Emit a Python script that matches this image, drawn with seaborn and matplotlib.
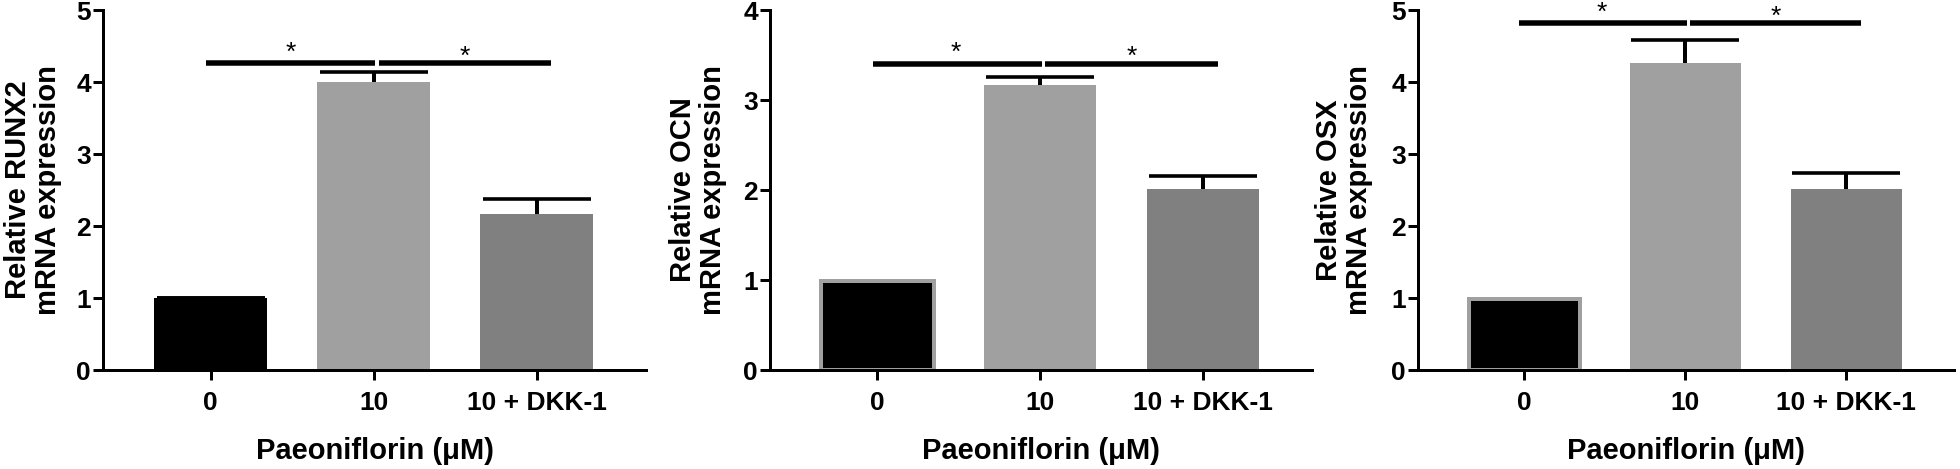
import matplotlib
matplotlib.use("Agg")
import matplotlib.pyplot as plt
import seaborn as sns
import pandas as pd

sns.set_theme(style="ticks")
plt.rcParams['font.family'] = ['Liberation Sans', 'DejaVu Sans']

# ---------------- data ----------------
groups = ["0", "10", "10 + DKK-1"]
runx2_mean = [1.00, 4.00, 2.16]
runx2_err = [0.00, 0.14, 0.21]
ocn_mean = [0.985, 3.17, 2.01]
ocn_err = [0.00, 0.09, 0.15]
osx_mean = [0.985, 4.27, 2.52]
osx_err = [0.00, 0.32, 0.21]

ylabels = ["Relative RUNX2\nmRNA expression",
           "Relative OCN\nmRNA expression",
           "Relative OSX\nmRNA expression"]
xlabel = "Paeoniflorin (\u03bcM)"
ymax = [5, 4, 5]
sig_y = [4.26, 3.40, 4.82]
star_pos = [[(0.49, 4.49), (1.56, 4.43)],
            [(0.48, 3.59), (1.56, 3.55)],
            [(0.48, 5.05), (1.56, 4.99)]]

bar_colors = ["#000000", "#a0a0a0", "#808080"]

W, H = 1960, 469
DPI = 100
fig = plt.figure(figsize=(W / DPI, H / DPI), dpi=DPI)

# axes boxes in pixels: left, right
boxes = [(103, 646), (770, 1312), (1418, 1954)]
bottom_px, top_px = 370, 10
ylab_x = [-0.129, -0.133, -0.138]

means = [runx2_mean, ocn_mean, osx_mean]
errs = [runx2_err, ocn_err, osx_err]
gray_edge = [False, True, True]

px = 0.72  # points per pixel at dpi 100
STAR_FS = 19

for i in range(3):
    l, r = boxes[i]
    ax = fig.add_axes([l / W, (H - bottom_px) / H, (r - l) / W, (bottom_px - top_px) / H])
    df = pd.DataFrame({"group": groups, "value": means[i]})
    sns.barplot(data=df, x="group", y="value", hue="group", palette=bar_colors,
                order=groups, width=0.69, legend=False, ax=ax, errorbar=None,
                saturation=1.0, linewidth=0)
    for p in ax.patches:
        p.set_zorder(2)
    if gray_edge[i]:
        p0 = ax.patches[0]
        p0.set_edgecolor("#a0a0a0")
        p0.set_linewidth(4 * px)
    xs = list(range(len(groups)))
    # symmetric error bars drawn behind the bars -> only upper half visible
    ax.errorbar(xs, means[i], yerr=errs[i], fmt="none", ecolor="black",
                elinewidth=4 * px, capsize=54 * px, capthick=3.6 * px, zorder=1.5)

    # significance lines
    ax.plot([-0.03, 1.01], [sig_y[i]] * 2, color="black", lw=5.5 * px,
            solid_capstyle="butt", clip_on=False, zorder=4)
    ax.plot([1.03, 2.09], [sig_y[i]] * 2, color="black", lw=5.5 * px,
            solid_capstyle="butt", clip_on=False, zorder=4)
    for (sx, sy) in star_pos[i]:
        ax.annotate("*", xy=(sx, sy), xytext=(0, -0.5 * STAR_FS),
                    textcoords="offset points", ha="center", va="baseline",
                    fontsize=STAR_FS, color="black", annotation_clip=False)

    ax.set_xlim(-0.66, 2.67)
    ax.set_ylim(0, ymax[i])
    ax.set_yticks(range(0, ymax[i] + 1))
    ax.set_xticks(xs)
    ax.set_xticklabels(groups)
    for s in ["top", "right"]:
        ax.spines[s].set_visible(False)
    for s in ["left", "bottom"]:
        ax.spines[s].set_linewidth(3 * px)
        ax.spines[s].set_color("black")
    ax.tick_params(axis="both", direction="out", length=10 * px, width=3 * px,
                   color="black", labelsize=19, labelcolor="black")
    ax.tick_params(axis="y", pad=1.5)
    ax.tick_params(axis="x", pad=8)
    for t in ax.get_xticklabels() + ax.get_yticklabels():
        t.set_fontweight("bold")

    ax.set_ylabel(ylabels[i], fontsize=21, fontweight="bold", color="black",
                  linespacing=1.1, va="center", ha="center")
    ax.yaxis.set_label_coords(ylab_x[i], 0.5)
    ax.set_xlabel(xlabel, fontsize=21, fontweight="bold", color="black", va="center")
    ax.xaxis.set_label_coords(0.5, -0.226)
    ax.set_facecolor("white")

fig.savefig("out.png", dpi=DPI, facecolor="white")
